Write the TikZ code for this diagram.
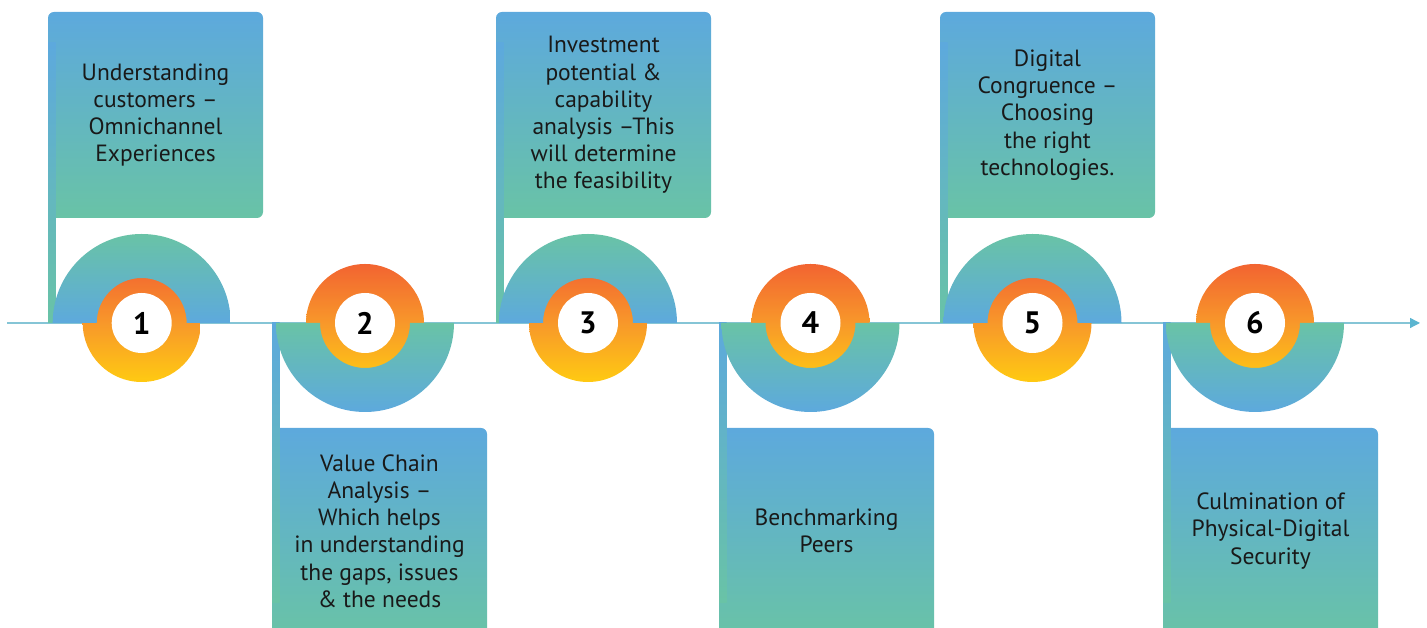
\documentclass[tikz,border=0pt]{standalone}
\usepackage{fontspec}
\setmainfont{PT Sans}
\usetikzlibrary{arrows.meta}
\definecolor{stepblue}{HTML}{5DA9DD}
\definecolor{stepgreen}{HTML}{69C3A6}
\definecolor{ringred}{HTML}{F26431}
\definecolor{ringorange}{HTML}{F8982A}
\definecolor{ringyellow}{HTML}{FFCA12}
\definecolor{axiscol}{HTML}{85C5D6}
\definecolor{arrowcol}{HTML}{5BB5D0}
\tikzset{
  boxgrad/.style={top color=stepblue, bottom color=stepgreen},
  bargrad/.style={top color=stepblue, bottom color=stepgreen},
  semigrad/.style={top color=stepgreen, bottom color=stepblue},
  ringgrad/.style={top color=ringred, bottom color=ringyellow, middle color=ringorange},
  boxtext/.style={align=center, font=\fontsize{23.5}{27.2}\selectfont, text=black!90, inner sep=0pt},
  numcircle/.style={circle, fill=white, minimum size=60pt, inner sep=0pt, font=\fontsize{31}{31}\bfseries\selectfont, text=black},
  axisline/.style={draw=axiscol, line width=1.3pt, -{Triangle[length=10pt,width=10pt,color=arrowcol]}}
}
% #1 circle centre x, #2 box left x, #3 number, #4 text
\newcommand{\TopStep}[4]{%
  \shade[boxgrad, rounded corners=6pt] (#2,410) rectangle ++(215,206);
  \shade[bargrad] (#2,305) rectangle ++(7.5,280);
  \node[boxtext] (t#3) at (#2+107.5,513) {#4};
  \shade[ringgrad] (#1,305) circle[radius=59];
  \shade[semigrad] (#1+89,305) arc[start angle=0,end angle=180,radius=89]
     -- (#1-45,305) arc[start angle=180,end angle=0,radius=45] -- cycle;
  \node[numcircle] (n#3) at (#1,305) {#3};
}
\newcommand{\BottomStep}[4]{%
  \shade[boxgrad, rounded corners=6pt] (#2,-10) -- (#2,200) -- (#2+215,200) -- (#2+215,-10) -- cycle;
  \shade[bargrad] (#2,305) rectangle ++(7.5,-280);
  \node[boxtext] (t#3) at (#2+107.5,97) {#4};
  \shade[ringgrad] (#1,305) circle[radius=59];
  \shade[semigrad] (#1+89,305) arc[start angle=0,end angle=-180,radius=89]
     -- (#1-45,305) arc[start angle=-180,end angle=0,radius=45] -- cycle;
  \node[numcircle] (n#3) at (#1,305) {#3};
}
\begin{document}
\begin{tikzpicture}[x=1pt,y=1pt]
\useasboundingbox (0,0) rectangle (1427,628);
\coordinate (axisStart) at (7,305);
\coordinate (axisEnd) at (1420,305);
\draw[axisline] (axisStart) -- (axisEnd);
\TopStep{141.7}{48}{1}{Understanding\\customers --\\Omnichannel\\Experiences}
\BottomStep{365}{272}{2}{Value Chain\\Analysis --\\Which helps\\in understanding\\the gaps, issues\\\& the needs}
\TopStep{588}{496}{3}{Investment\\potential \&\\capability\\analysis --This\\will determine\\the feasibility}
\BottomStep{810.5}{719}{4}{Benchmarking\\Peers}
\TopStep{1032.5}{940}{5}{Digital\\Congruence --\\Choosing\\the right\\technologies.}
\BottomStep{1255}{1163}{6}{Culmination of\\Physical-Digital\\Security}
\end{tikzpicture}
\end{document}
